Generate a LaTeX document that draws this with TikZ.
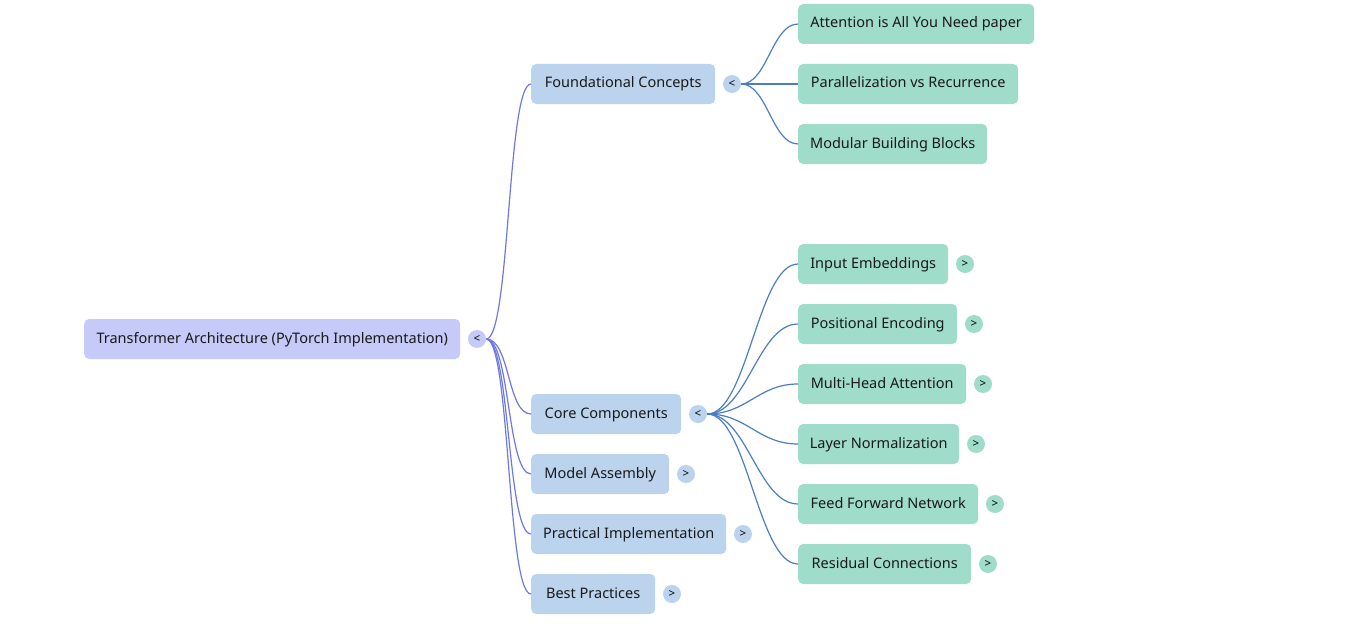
\documentclass[tikz,border=0pt]{standalone}
\usepackage{fontspec}
\setmainfont{Noto Sans}
\definecolor{rootfill}{HTML}{C5CAF8}
\definecolor{bluefill}{HTML}{BCD3EE}
\definecolor{greenfill}{HTML}{A0DCCA}
\definecolor{rootedge}{HTML}{6E78E2}
\definecolor{blueedge}{HTML}{4A7EC0}
\begin{document}
\begin{tikzpicture}[x=1pt,y=-1pt,
  box/.style={anchor=west,rounded corners=5pt,minimum height=40pt,inner xsep=0pt,
    inner ysep=0pt,text height=11pt,text depth=3pt,
    font=\fontsize{14.5}{16}\selectfont,text=black!90},
  rootbox/.style={box,fill=rootfill},
  l1box/.style={box,fill=bluefill},
  l2box/.style={box,fill=greenfill},
  tog/.style={circle,minimum size=18pt,inner sep=0pt,font=\fontsize{11.5}{12}\selectfont},
  rtog/.style={tog,fill=rootfill},
  btog/.style={tog,fill=bluefill},
  gtog/.style={tog,fill=greenfill},
  redge/.style={draw=rootedge,line width=1.2pt},
  bedge/.style={draw=blueedge,line width=1.2pt}]
\useasboundingbox (0,0) rectangle (1358,626);
% root
\node[rootbox,minimum width=376pt] (root) at (84,339) {Transformer Architecture (PyTorch Implementation)};
\node[rtog] (troot) at (477,339) {<};
% level 1
\node[l1box,minimum width=184pt] (fc) at (531,84) {Foundational Concepts};
\node[btog] (tfc) at (732,84) {<};
\node[l1box,minimum width=150pt] (cc) at (531,414) {Core Components};
\node[btog] (tcc) at (698,414) {<};
\node[l1box,minimum width=138pt] (ma) at (531,474) {Model Assembly};
\node[btog] (tma) at (686,474) {>};
\node[l1box,minimum width=195pt] (pi) at (531,534) {Practical Implementation};
\node[btog] (tpi) at (743,534) {>};
\node[l1box,minimum width=124pt] (bp) at (531,594) {Best Practices};
\node[btog] (tbp) at (672,594) {>};
% level 2 under foundational
\node[l2box,minimum width=236pt] (att) at (798,24) {Attention is All You Need paper};
\node[l2box,minimum width=220pt] (par) at (798,84) {Parallelization vs Recurrence};
\node[l2box,minimum width=189pt] (mod) at (798,144) {Modular Building Blocks};
% level 2 under core
\node[l2box,minimum width=150pt] (ie) at (798,264) {Input Embeddings};
\node[gtog] (tie) at (965,264) {>};
\node[l2box,minimum width=159pt] (pe) at (798,324) {Positional Encoding};
\node[gtog] (tpe) at (974,324) {>};
\node[l2box,minimum width=168pt] (mha) at (798,384) {Multi-Head Attention};
\node[gtog] (tmha) at (983,384) {>};
\node[l2box,minimum width=161pt] (ln) at (798,444) {Layer Normalization};
\node[gtog] (tln) at (976,444) {>};
\node[l2box,minimum width=180pt] (ff) at (798,504) {Feed Forward Network};
\node[gtog] (tff) at (995,504) {>};
\node[l2box,minimum width=173pt] (rc) at (798,564) {Residual Connections};
\node[gtog] (trc) at (988,564) {>};
% edges root
\foreach \t in {fc,cc,ma,pi,bp}{
  \draw[redge] (troot.east) .. controls ([xshift=24pt]troot.east) and ([xshift=-24pt]\t.west) .. (\t.west);
}
% edges foundational
\foreach \t in {att,par,mod}{
  \draw[bedge] (tfc.east) .. controls ([xshift=26pt]tfc.east) and ([xshift=-26pt]\t.west) .. (\t.west);
}
% edges core
\foreach \t in {ie,pe,mha,ln,ff,rc}{
  \draw[bedge] (tcc.east) .. controls ([xshift=40pt]tcc.east) and ([xshift=-40pt]\t.west) .. (\t.west);
}
\end{tikzpicture}
\end{document}
